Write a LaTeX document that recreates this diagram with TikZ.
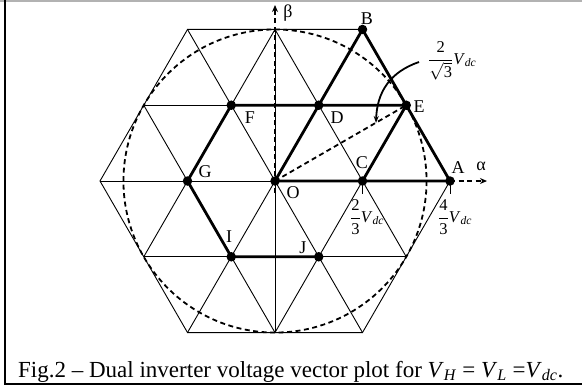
\documentclass[tikz,border=0pt]{standalone}
\usepackage{amsmath}
\usepackage{fontspec}
\setmainfont{Liberation Serif}
\usetikzlibrary{arrows.meta}
\tikzset{
  grid/.style={line width=0.9pt, black},
  bold/.style={line width=2.8pt, black, line cap=round},
  dsh/.style={line width=1.8pt, black, dash pattern=on 5pt off 3.5pt},
  dot/.style={circle, fill=black, minimum size=9.5pt, inner sep=0pt},
  lab/.style={font=\fontsize{18}{18}\selectfont, inner sep=0pt},
  frac/.style={font=\fontsize{16.5}{16.5}\selectfont, inner sep=0pt, anchor=west},
  tick/.style={line width=0.9pt, black},
}
\newcommand{\Vdc}{\textit{V}\textsubscript{\textit{dc}}}
\begin{document}
\begin{tikzpicture}[x=1pt, y=-1pt]
\useasboundingbox (0,0) rectangle (582,389);
% frame
\draw[line width=1.5pt, black!30] (0,0.75) -- (582,0.75);
\draw[line width=2pt, black] (5,0) -- (5,384) -- (582,384);
% points
\coordinate (O) at (275,181);
\coordinate (A) at (450,181);
\coordinate (C) at (362.5,181);
\coordinate (G) at (187.5,181);
\coordinate (B) at (362.5,29.44);
\coordinate (H2) at (187.5,29.44);
\coordinate (H3) at (100,181);
\coordinate (H4) at (187.5,332.55);
\coordinate (H5) at (362.5,332.55);
\coordinate (Top) at (275,29.44);
\coordinate (Bot) at (275,332.55);
\coordinate (E) at (406.25,105.22);
\coordinate (D) at (318.75,105.22);
\coordinate (F) at (231.25,105.22);
\coordinate (I) at (231.25,256.78);
\coordinate (J) at (318.75,256.78);
% grid
\begin{scope}
  \clip (A) -- (B) -- (H2) -- (H3) -- (H4) -- (H5) -- cycle;
  \foreach \k in {-1,0,1} {
    \draw[grid] (275+\k*87.5-100,181+173.2) -- ++(200,-346.4);
    \draw[grid] (275+\k*87.5+100,181+173.2) -- ++(-200,-346.4);
  }
  \draw[grid] (100,105.22) -- (450,105.22);
  \draw[grid] (100,256.78) -- (450,256.78);
  \draw[grid] (H3) -- (A);
\end{scope}
\draw[grid] (A) -- (B) -- (H2) -- (H3) -- (H4) -- (H5) -- cycle;
\draw[grid] (Top) -- (Bot);
% circle
\draw[dsh] (O) circle (151.55);
% axes
\coordinate (betaTip) at (275,5);
\coordinate (betaStart) at (275,193);
\coordinate (alphaTip) at (487,181);
\draw[dsh, -{Stealth[length=7pt,width=6pt]}] (betaStart) -- (betaTip);
\draw[dsh, -{Stealth[length=7pt,width=6pt]}] (A) -- (alphaTip);
\draw[dsh] (O) -- (E);
% bold path
\draw[bold] (O) -- (A) -- (B) -- (D) -- (O);
\draw[bold] (F) -- (E) -- (C);
\draw[bold] (F) -- (G) -- (I) -- (J);
% ticks
\coordinate (tC) at (362.5,194);
\coordinate (tA) at (450,194);
\draw[tick] (C) -- (tC);
\draw[tick] (A) -- (tA);
% dots
\foreach \p in {O,A,B,C,D,E,F,G,I,J} \node[dot] at (\p) {};
% labels
\node[lab] (lB) at (367,19) {B};
\node[lab] (lE) at (419,107) {E};
\node[lab] (lD) at (337,118) {D};
\node[lab] (lC) at (362,163) {C};
\node[lab] (lA) at (458,168) {A};
\node[lab] (lal) at (481,166) {α};
\node[lab] (lbe) at (288,13) {β};
\node[lab] (lF) at (250,118) {F};
\node[lab] (lG) at (205,172) {G};
\node[lab] (lO) at (293,193) {O};
\node[lab] (lI) at (229,237) {I};
\node[lab] (lJ) at (303,248) {J};
% fraction labels
\node[frac] (f23) at (350,217) {$\displaystyle\frac{\text{2}}{\text{3}}$\Vdc};
\node[frac] (f43) at (438,217) {$\displaystyle\frac{\text{4}}{\text{3}}$\Vdc};
\node[frac] (f2r3) at (428,61) {$\displaystyle\frac{\text{2}}{\sqrt{\text{3}}}$\Vdc};
% curved arrow
\coordinate (cS) at (419,62);
\coordinate (cT) at (376,123);
\draw[line width=1.8pt, -{Stealth[length=7pt,width=5pt]}] (cS) .. controls (390,72) and (377,92) .. (cT);
% caption
\node[anchor=base west, inner sep=0pt, font=\fontsize{23}{23}\selectfont] (cap) at (18,377)
  {Fig.2 – Dual inverter voltage vector plot for \textit{V}\textsubscript{\textit{H}} = \textit{V}\textsubscript{\textit{L}} =\Vdc.};
\end{tikzpicture}
\end{document}
